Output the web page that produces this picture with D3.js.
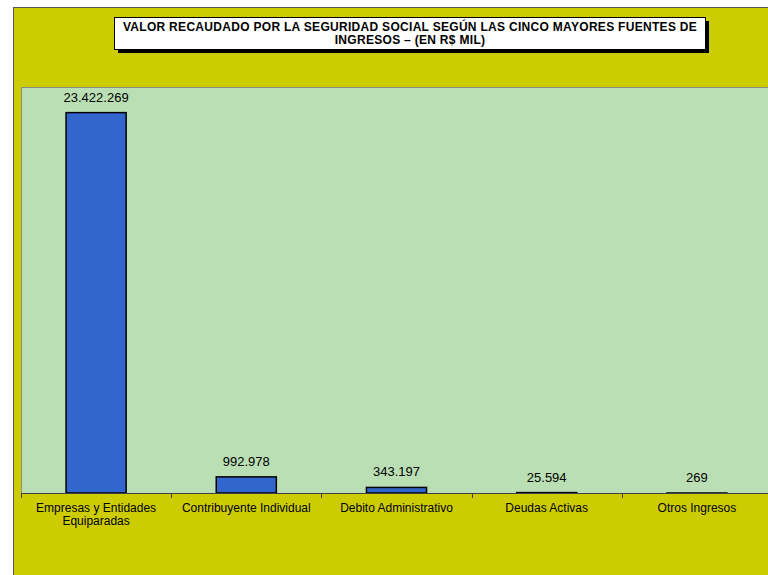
<!DOCTYPE html>
<html><head><meta charset="utf-8">
<script src="https://cdn.jsdelivr.net/npm/d3@7"></script>
<style>html,body{margin:0;padding:0;background:#fff;overflow:hidden}svg{display:block}</style>
</head><body>
<svg id="c" width="768" height="575"></svg>
<script>
const categories = [["Empresas y Entidades","Equiparadas"],["Contribuyente Individual"],["Debito Administrativo"],["Deudas Activas"],["Otros Ingresos"]];
const values = [23422269, 992978, 343197, 25594, 269];
const valueLabels = ["23.422.269","992.978","343.197","25.594","269"];
const titleLines = ["VALOR RECAUDADO POR LA SEGURIDAD SOCIAL SEGÚN LAS CINCO MAYORES FUENTES DE","INGRESOS – (EN R$ MIL)"];

const svg = d3.select("#c");
const font = "Liberation Sans, Arial, sans-serif";
// outer chart area
svg.append("rect").attr("x",13.5).attr("y",7.5).attr("width",900).attr("height",700)
  .attr("fill","#cccc00").attr("stroke","#555").attr("stroke-width",1);

const plot = {x0:21, x1:772, y0:87, y1:493};
svg.append("rect").attr("x",plot.x0+0.5).attr("y",plot.y0+0.5).attr("width",plot.x1-plot.x0).attr("height",plot.y1-plot.y0)
  .attr("fill","#bbdfb4").attr("stroke","#8a8a8a").attr("stroke-width",1);

const x = d3.scaleBand().domain(d3.range(categories.length)).range([plot.x0, plot.x1]).paddingInner(0.6).paddingOuter(0.3);
const y = d3.scaleLinear().domain([0, 25000000]).range([plot.y1, plot.y0]);

svg.selectAll("rect.bar").data(values).join("rect").attr("class","bar")
  .attr("x",(d,i)=>x(i)).attr("width",x.bandwidth())
  .attr("y",d=>y(d)).attr("height",d=>Math.max(0,plot.y1-y(d)))
  .attr("fill","#3366cc").attr("stroke","#000").attr("stroke-width",1.5);

svg.selectAll("text.val").data(values).join("text").attr("class","val")
  .attr("x",(d,i)=>x(i)+x.bandwidth()/2).attr("y",d=>y(d)-11)
  .attr("text-anchor","middle").attr("font-family",font).attr("font-size",13).attr("fill","#000")
  .text((d,i)=>valueLabels[i]);

// axis
const step = x.step();
const bounds = d3.range(categories.length+1).map(i=>plot.x0 + i*step);
svg.append("line").attr("x1",plot.x0).attr("x2",plot.x1).attr("y1",plot.y1+0.5).attr("y2",plot.y1+0.5)
  .attr("stroke","#404040").attr("stroke-width",1);
svg.selectAll("line.tick").data(bounds).join("line").attr("class","tick")
  .attr("x1",d=>Math.round(d)+0.5).attr("x2",d=>Math.round(d)+0.5).attr("y1",plot.y1).attr("y2",plot.y1+5)
  .attr("stroke","#404040");

const cl = svg.selectAll("text.cat").data(categories).join("text").attr("class","cat")
  .attr("text-anchor","middle").attr("font-family",font).attr("font-size",12).attr("fill","#000");
cl.each(function(lines,i){
  const t = d3.select(this);
  lines.forEach((l,j)=>t.append("tspan").attr("x",x(i)+x.bandwidth()/2).attr("y",512+j*13).text(l));
});

// title box
svg.append("rect").attr("x",118).attr("y",21).attr("width",591).attr("height",32).attr("fill","#000");
svg.append("rect").attr("x",114.5).attr("y",17.5).attr("width",591).attr("height",32).attr("fill","#fff").attr("stroke","#000").attr("stroke-width",1);
svg.selectAll("text.title").data(titleLines).join("text").attr("class","title")
  .attr("x",410).attr("y",(d,i)=>31+i*13).attr("text-anchor","middle")
  .attr("font-family",font).attr("font-weight","bold").attr("font-size",12).attr("letter-spacing",0.3).attr("fill","#000").text(d=>d);
</script>
</body></html>
